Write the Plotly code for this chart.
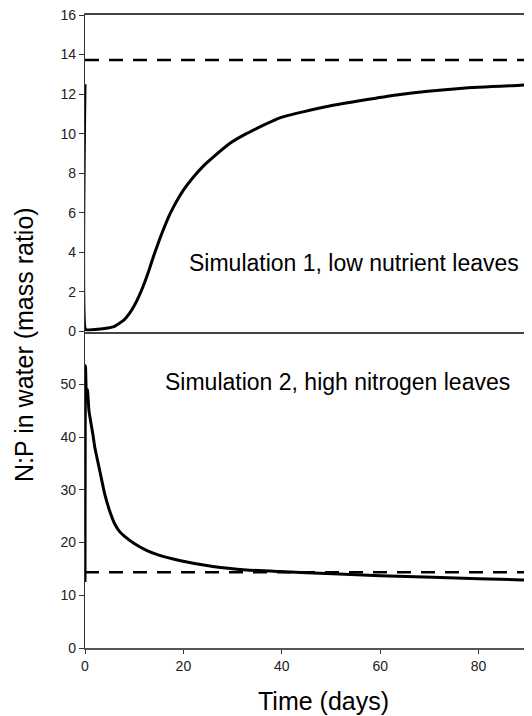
import plotly.graph_objects as go
from plotly.subplots import make_subplots

# ---- data ----
sim1_days = [0, 0.1, 0.5, 2, 4, 5.7, 7, 8, 9, 10, 11, 12, 13, 14, 15, 16, 17, 18, 19, 20,
             22, 24, 26, 29.4, 32.8, 39.6, 49.7, 63.3, 76.8, 90.4, 91]
sim1_np = [12.5, 0.1, 0.08, 0.1, 0.15, 0.23, 0.42, 0.6, 0.9, 1.3, 1.8, 2.4, 3.1, 3.85,
           4.55, 5.2, 5.8, 6.3, 6.75, 7.15, 7.8, 8.35, 8.8, 9.5, 10.0, 10.8, 11.4, 11.96,
           12.3, 12.47, 12.48]

sim2_days = [0, 0.1, 0.3, 0.5, 0.8, 1.6, 2, 3, 4, 5, 6, 7, 8, 10, 12.5, 15, 19.2, 26,
             32.8, 39.6, 50.4, 60, 70.7, 80, 88.9, 91]
sim2_np = [12.5, 53.5, 47.0, 49.0, 45.0, 40.5, 38.0, 33.6, 29.2, 26.0, 23.6, 22.1,
           21.2, 19.8, 18.5, 17.6, 16.6, 15.45, 14.8, 14.5, 14.07, 13.7, 13.4, 13.15, 12.9,
           12.85]

redfield_sim1 = 13.73
redfield_sim2 = 14.37

top_ticks = [0, 2, 4, 6, 8, 10, 12, 14, 16]
bottom_ticks = [0, 10, 20, 30, 40, 50]
x_ticks = [0, 20, 40, 60, 80]

label_sim1 = "Simulation 1, low nutrient leaves"
label_sim2 = "Simulation 2, high nitrogen leaves"
x_title = "Time (days)"
y_title = "N:P in water (mass ratio)"

FONT = "Liberation Sans, Arial, Helvetica, sans-serif"

# the page body adds an 8px offset; size the figure so the plot lands where the reference has it
OFF = 8
W, H = 532 - OFF, 716 - OFF
ML, MR, MT, MB = 85 - OFF, 0, 15 - OFF, 68

fig = make_subplots(rows=2, cols=1, shared_xaxes=True, vertical_spacing=0)

fig.add_trace(go.Scatter(x=sim1_days, y=sim1_np, mode="lines",
                         line=dict(color="black", width=3, shape="spline", smoothing=0.5),
                         showlegend=False), row=1, col=1)
fig.add_trace(go.Scatter(x=sim2_days, y=sim2_np, mode="lines",
                         line=dict(color="black", width=3, shape="spline", smoothing=0.4),
                         showlegend=False), row=2, col=1)

fig.add_hline(y=redfield_sim1, row=1, col=1,
              line=dict(color="black", width=2.5, dash="14px,10px"))
fig.add_hline(y=redfield_sim2, row=2, col=1,
              line=dict(color="black", width=2.5, dash="14px,10px"))

axis_common = dict(showgrid=False, zeroline=False, showline=True,
                   linecolor="#333", linewidth=1.3, ticklabeloverflow="allow",
                   tickfont=dict(family=FONT, size=14, color="#222"))

fig.update_xaxes(range=[0, 90.85], **axis_common)
fig.update_xaxes(row=1, col=1, showticklabels=False, ticks="", mirror=True,
                 linewidth=1.8, linecolor="#444")
fig.update_xaxes(row=2, col=1, tickvals=x_ticks, ticks="outside", ticklen=4,
                 tickcolor="#333", linecolor="#555", linewidth=1.8)

fig.update_yaxes(**axis_common)
fig.update_yaxes(row=1, col=1, range=[0, 16], tickvals=top_ticks,
                 ticks="outside", ticklen=5, tickcolor="#333")
fig.update_yaxes(row=2, col=1, range=[0, 60], tickvals=bottom_ticks,
                 ticks="outside", ticklen=5, tickcolor="#333")

fig.update_layout(
    width=W, height=H,
    margin=dict(l=ML, r=MR, t=MT, b=MB),
    plot_bgcolor="white", paper_bgcolor="white",
    font=dict(family=FONT, color="black"),
)

plot_w = W - ML - MR
plot_h = H - MT - MB


def px_x(px):
    # px is a page pixel position of the reference
    return (px - OFF - ML) / plot_w


def px_y(py):
    return (H - MB - (py - OFF)) / plot_h


def label(text, cx, cy, size, angle=0):
    fig.add_annotation(text=text, xref="paper", yref="paper",
                       x=px_x(cx), y=px_y(cy), xanchor="center", yanchor="middle",
                       showarrow=False, textangle=angle,
                       font=dict(family=FONT, size=size, color="black"))


label(label_sim1, 354, 263, 23)
label(label_sim2, 337.5, 382, 23)
label(x_title, 323, 701, 25)
label(y_title, 24, 345, 25, angle=-90)

fig.write_html("out.html")
